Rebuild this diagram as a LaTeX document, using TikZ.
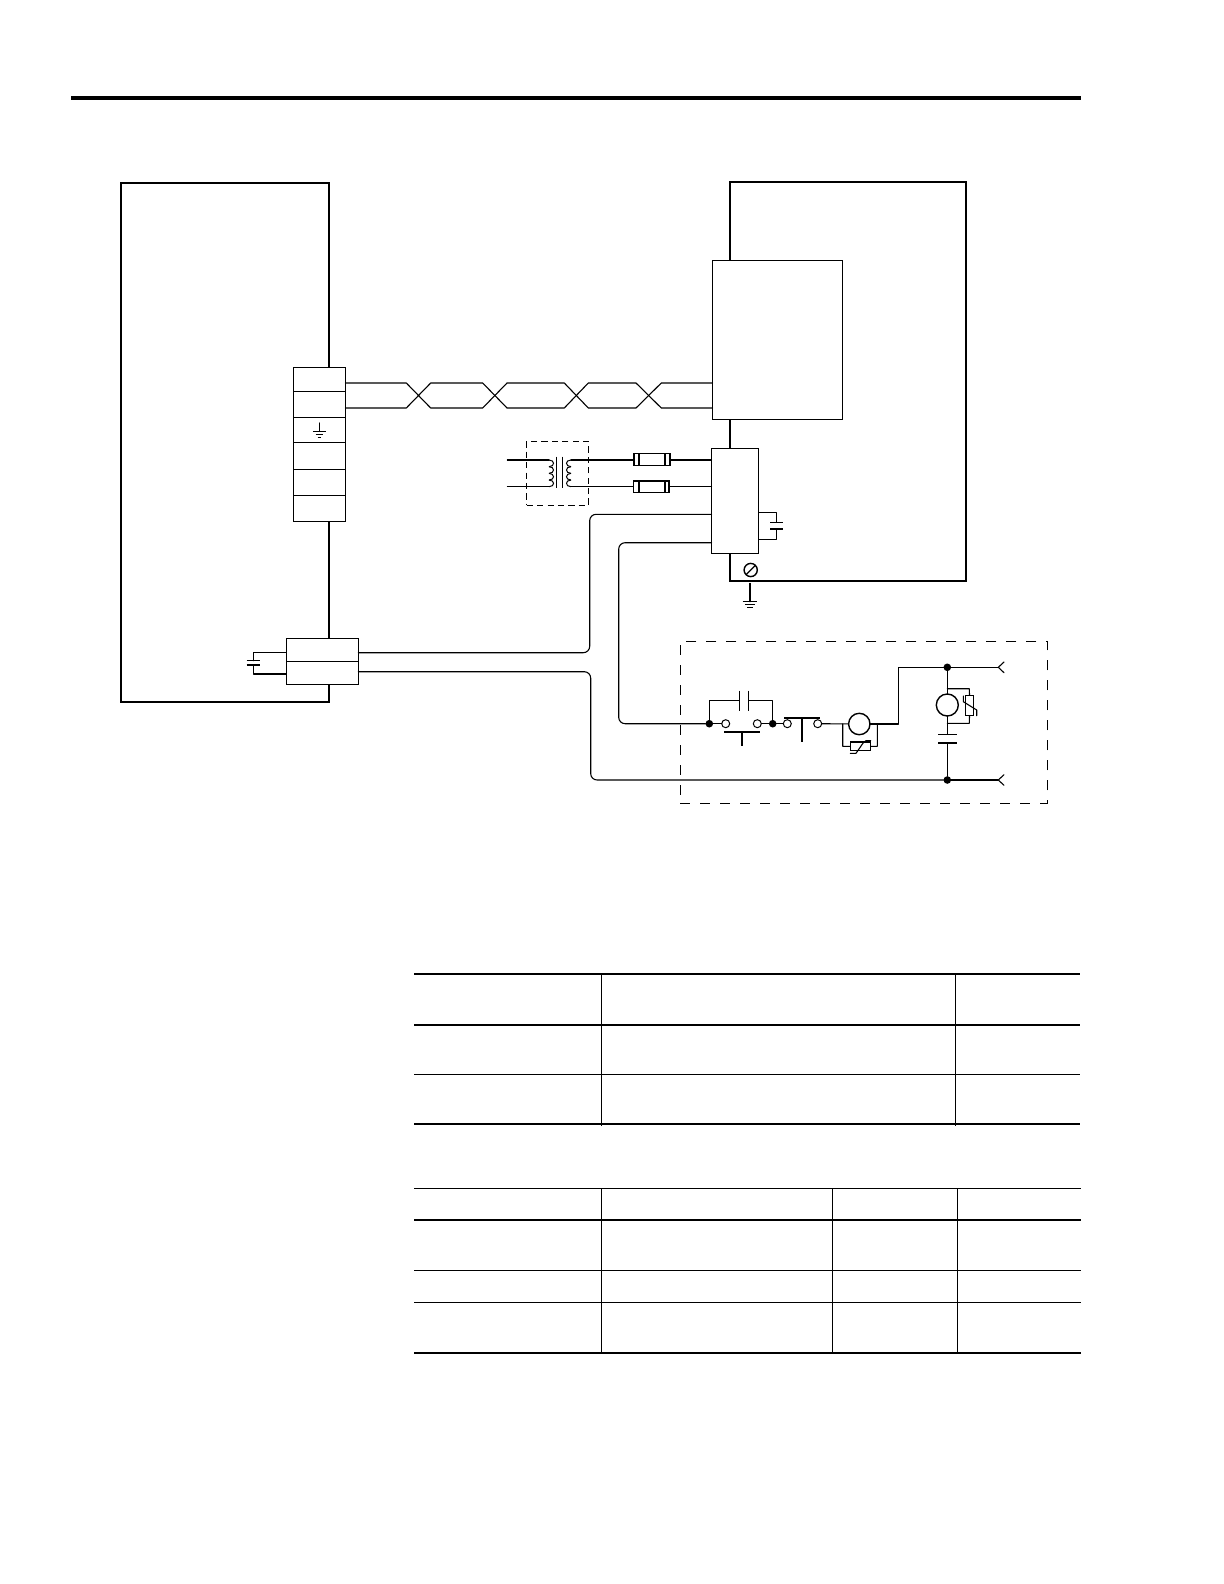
\documentclass[tikz,border=0pt]{standalone}
\usetikzlibrary{fit}
\tikzset{
  x=0.5pt,y=-0.5pt,
  wire/.style={line width=0.55pt,line cap=round,line join=round},
  roundwire/.style={wire,rounded corners=3.2pt},
  heavy/.style={line width=1.15pt,line join=miter},
  frame/.style={draw,heavy,inner sep=0pt,outer sep=0pt,fit={#1}},
  cell/.style={draw,line width=0.6pt,fill=white,inner sep=0pt,outer sep=0pt,fit={#1}},
  hollow/.style={draw,line width=0.6pt,inner sep=0pt,outer sep=0pt,fit={#1}},
  dashedbox/.style={draw,line width=0.6pt,inner sep=0pt,outer sep=0pt,fit={#1}},
  dot/.style={circle,fill=black,draw=none,inner sep=0pt,outer sep=0pt,minimum size=3.8pt},
  opencontact/.style={circle,draw,line width=0.5pt,fill=white,inner sep=0pt,outer sep=0pt,minimum size=4pt},
  lamp/.style={circle,draw,line width=0.7pt,inner sep=0pt,outer sep=0pt,minimum size=#1},
  plate/.style={line width=0.6pt},
  heavyplate/.style={line width=1.1pt},
  rule thin/.style={line width=0.5pt},
  rule thick/.style={line width=1pt},
  rule col/.style={line width=0.5pt},
}
\begin{document}
\begin{tikzpicture}
\useasboundingbox (0,0) rectangle (1224,1584);
\fill[white] (0,0) rectangle (1224,1584);

% page rule
\coordinate (railL) at (71,98);
\coordinate (railR) at (1080.5,98);
\draw[line width=2.15pt] (railL) -- (railR);

% main enclosures
\node[frame={(121,183)(329,702)}] (leftunit) {};
\node[frame={(730,182)(966,581)}] (rightunit) {};
\node[cell={(712.5,260.5)(842.3,419.3)}] (inner) {};
\node[cell={(711.5,448.3)(758.7,553.3)}] (block) {};

% terminal strip
\node[cell={(293.3,367.3)(345.3,391.3)}] (t1) {};
\node[cell={(293.3,391.3)(345.3,417.3)}] (t2) {};
\node[cell={(293.3,417.3)(345.3,442.3)}] (t3) {};
\node[cell={(293.3,442.3)(345.3,469.3)}] (t4) {};
\node[cell={(293.3,469.3)(345.3,495.3)}] (t5) {};
\node[cell={(293.3,495.3)(345.3,521.3)}] (t6) {};

% ground in terminal strip
\coordinate (gt) at (319.3,423);
\coordinate (gtb) at (319.3,431.3);
\draw[wire] (gt) -- (gtb);
\draw[plate] (312.8,431.3) -- (325.8,431.3);
\draw[plate] (315.6,434.4) -- (323,434.4);
\draw[plate] (317.6,437.4) -- (321,437.4);

% twisted pair
\coordinate (pa) at (345.3,383);
\coordinate (pb) at (345.3,408);
\coordinate (qa) at (712.5,383);
\coordinate (qb) at (712.5,408);
\draw[wire] (pa) -- (406.3,383) -- (430.7,408) -- (482.7,408) -- (507,383) -- (564.3,383) -- (588.3,408) -- (636,408) -- (661.3,383) -- (qa);
\draw[wire] (pb) -- (406.3,408) -- (430.7,383) -- (482.7,383) -- (507,408) -- (564.3,408) -- (588.3,383) -- (636,383) -- (661.3,408) -- (qb);

% transformer
\node[dashedbox={(526.7,441.3)(588.3,505.3)},dash pattern=on 3.1pt off 2.1pt] (xfmr) {};
\coordinate (ina) at (507.3,460);
\coordinate (inb) at (507.3,486.7);
\coordinate (ca) at (549,460);
\coordinate (cb) at (549,486.7);
\coordinate (da) at (571,460);
\coordinate (db) at (571,486.7);
\draw[wire] (ina) -- (ca);
\draw[wire] (inb) -- (cb);
\foreach \k in {0,1,2,3}{
  \pgfmathsetmacro\ya{460+\k*6.675}
  \pgfmathsetmacro\yb{460+(\k+1)*6.675}
  \draw[line width=0.5pt] (549,\ya) .. controls (555,\ya) and (555,\yb) .. (549,\yb);
  \draw[line width=0.5pt] (571,\ya) .. controls (565,\ya) and (565,\yb) .. (571,\yb);
}
\draw[plate] (556.7,456.7) -- (556.7,488.3);
\draw[plate] (562.3,456.7) -- (562.3,488.3);

% fuses
\node[hollow={(633.3,453.3)(669.7,465.3)},line width=0.8pt] (fuseA) {};
\node[hollow={(633.3,481)(669.7,492.3)}] (fuseB) {};
\draw[line width=1.1pt] (633.8,453.5) -- (633.8,465.1);
\draw[line width=0.9pt] (639,453.3) -- (639,465.3);
\draw[plate] (665,453.3) -- (665,465.3);
\draw[line width=0.9pt] (639,481) -- (639,492.3);
\draw[plate] (665,481) -- (665,492.3);
\draw[line width=1.1pt] (669.2,481.2) -- (669.2,492.1);
\coordinate (ba) at (711.5,460);
\coordinate (bb) at (711.5,486.7);
\draw[wire] (da) -- (fuseA.west |- da);
\draw[wire] (db) -- (fuseB.west |- db);
\draw[wire] (fuseA.east |- ba) -- (ba);
\draw[wire] (fuseB.east |- bb) -- (bb);

% capacitor on the block
\coordinate (ccA) at (758.7,512.3);
\coordinate (ccB) at (758.7,539.3);
\draw[wire] (ccA) -- (776.7,512.3) -- (776.7,522.3);
\draw[wire] (ccB) -- (776.7,539.3) -- (776.7,529);
\draw[plate] (770,522.3) -- (783.3,522.3);
\draw[plate] (770,529) -- (783.3,529);

% chassis screw and ground
\node[lamp=6.6pt] (screw) at (750.7,570) {};
\draw[plate] (screw.225) -- (screw.45);
\coordinate (gs) at (750,583.3);
\coordinate (gsb) at (750,601.7);
\draw[wire] (gs) -- (gsb);
\draw[plate] (742.6,601.7) -- (757.4,601.7);
\draw[plate] (745,604.6) -- (755,604.6);
\draw[plate] (747,607.5) -- (753,607.5);

% lower left connector
\node[cell={(286.3,638.3)(358.3,661.3)}] (k1) {};
\node[cell={(286.3,661.3)(358.3,684.3)}] (k2) {};
\coordinate (kca) at (286.3,652.3);
\coordinate (kcb) at (286.3,674);
\draw[wire] (kca) -- (253.3,652.3) -- (253.3,660.7);
\draw[wire] (kcb) -- (253.3,674) -- (253.3,665);
\draw[plate] (246.7,660.7) -- (260,660.7);
\draw[plate] (246.7,665) -- (260,665);

% dashed load enclosure
\node[dashedbox={(680.3,641.3)(1047.3,803.3)},dash pattern=on 5pt off 5pt] (load) {};

% contacts
\node[dot] (d1) at (709.3,723.7) {};
\node[dot] (d2) at (772.7,723.7) {};
\node[opencontact] (o1) at (725.7,723.7) {};
\node[opencontact] (o2) at (757.3,723.7) {};
\node[opencontact] (o3) at (787.3,723.7) {};
\node[opencontact] (o4) at (817.7,723.7) {};
\draw[wire] (d1) -- (o1);
\draw[wire] (o2) -- (d2);
\draw[wire] (d2) -- (o3);
\draw[line width=1.2pt] (724,731.7) -- (760,731.7);
\draw[line width=1.2pt] (742,731.7) -- (742,745.7);
\draw[line width=1.2pt] (784,718) -- (820,718);
\draw[line width=1.2pt] (802,718) -- (802,741.7);

% holding capacitor
\draw[wire] (d1) -- (709.3,700.3) -- (739.3,700.3);
\draw[wire] (d2) -- (772.7,700.3) -- (748.7,700.3);
\draw[plate] (739.3,690.7) -- (739.3,711);
\draw[plate] (748.7,690.7) -- (748.7,711);

% lamp 1 with varistor
\node[lamp=10.7pt] (m1) at (859.3,724) {};
\draw[wire] (o4) -- (m1);
\node[hollow={(850.3,742)(870.7,750.7)}] (var1) {};
\draw[wire] (842.7,724) -- (842.7,746.3) -- (var1.west);
\draw[wire] (m1.east) -- (877.3,724) -- (877.3,746.3) -- (var1.east);
\draw[wire] (850.3,753.3) -- (856,753.3) -- (863.3,742.7) -- (866,740.7) -- (870.7,740.7);

% output junctions
\node[dot] (j1) at (947.3,667.3) {};
\node[dot] (j2) at (947.3,780) {};
\coordinate (outA) at (998.3,667.3);
\coordinate (outB) at (998.3,780);
\draw[wire] (m1.east) -- (898.7,724) -- (898.7,667.3) -- (j1);
\draw[wire] (j1) -- (outA);
\draw[wire] (j2) -- (outB);
\draw[wire] (1004,662) -- (outA) -- (1004,672.7);
\draw[wire] (1004,774.7) -- (outB) -- (1004,785.3);

% lamp 2 with varistor and capacitor
\node[lamp=11pt] (m2) at (947.3,705) {};
\draw[wire] (j1) -- (m2);
\draw[wire] (m2) -- (947.3,734.3);
\draw[wire] (947.3,743) -- (j2);
\draw[plate] (938,734.3) -- (957,734.3);
\draw[heavyplate] (938,743) -- (957,743);
\node[hollow={(965.3,695.3)(973.7,715.7)}] (var2) {};
\draw[wire] (947.3,688.7) -- (969.3,688.7) -- (var2.north);
\draw[wire] (947.3,723.3) -- (969.3,723.3) -- (var2.south);
\draw[wire] (963.3,696) -- (963.3,701.7) -- (976.7,710) -- (976.7,715.7);

% cables to the block
\coordinate (bc) at (711.5,514.3);
\coordinate (bd) at (711.5,542.7);
\draw[roundwire] (bc) -- (589.7,514.3) -- (589.7,652.7) -- (k1.east |- 0,652.7);
\draw[roundwire] (bd) -- (618.7,542.7) -- (618.7,723.7) -- (d1);
\draw[roundwire] (k2.east |- 0,671.7) -- (590.7,671.7) -- (590.7,780) -- (j2);

% table 1
\coordinate (aL) at (414,974);   \coordinate (aR) at (1080,974);
\draw[rule thick] (aL) -- (aR);
\coordinate (bL) at (414,1024.7); \coordinate (bR) at (1080,1024.7);
\draw[rule thick] (bL) -- (bR);
\coordinate (cL) at (414,1074.3); \coordinate (cR) at (1080,1074.3);
\draw[rule thin] (cL) -- (cR);
\coordinate (dL) at (414,1124);  \coordinate (dR) at (1080,1124);
\draw[rule thick] (dL) -- (dR);
\draw[rule col] (601.3,974) -- (601.3,1126);
\draw[rule col] (955.3,974) -- (955.3,1126);

% table 2
\coordinate (eL) at (414,1188.3); \coordinate (eR) at (1081,1188.3);
\draw[rule thin] (eL) -- (eR);
\coordinate (fL) at (414,1219.7); \coordinate (fR) at (1081,1219.7);
\draw[rule thick] (fL) -- (fR);
\coordinate (gL) at (414,1270.3); \coordinate (gR) at (1081,1270.3);
\draw[rule thin] (gL) -- (gR);
\coordinate (hL) at (414,1302.3); \coordinate (hR) at (1081,1302.3);
\draw[rule thin] (hL) -- (hR);
\coordinate (iL) at (414,1353);   \coordinate (iR) at (1081,1353);
\draw[rule thick] (iL) -- (iR);
\draw[rule col] (601.3,1188.3) -- (601.3,1353);
\draw[rule col] (832.3,1188.3) -- (832.3,1353);
\draw[rule col] (957.3,1188.3) -- (957.3,1353);
\end{tikzpicture}
\end{document}
